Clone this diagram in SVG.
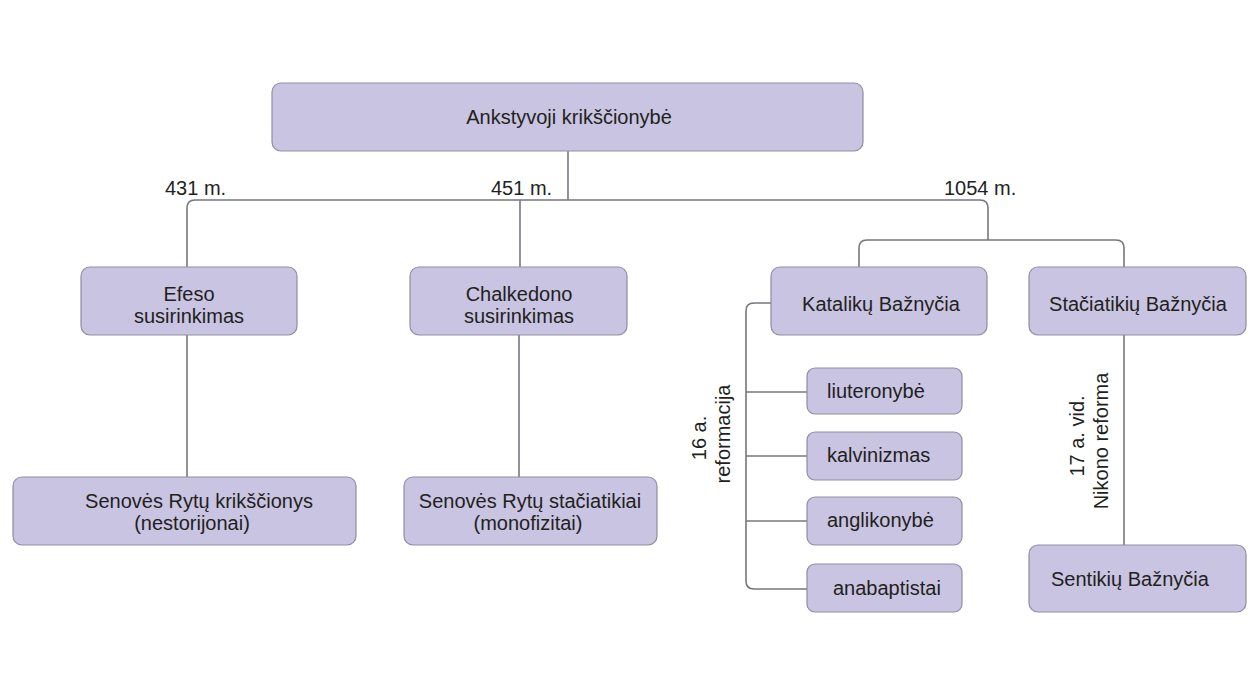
<svg xmlns="http://www.w3.org/2000/svg" width="1258" height="696" viewBox="0 0 1258 696">
<style>
.box{fill:#c8c4e2;stroke:#8f8da3;stroke-width:1.2}
.t{font-family:"Liberation Sans",Arial,sans-serif;font-size:20px;fill:#231f20}
.c{text-anchor:middle}
.ln{fill:none;stroke:#77767f;stroke-width:1.6}
</style>
<rect width="1258" height="696" fill="#ffffff"/>
<g id="connectors">
<path class="ln" d="M568,151 V200"/>
<path class="ln" d="M187,267 V208 Q187,200 195,200 H980 Q988,200 988,208 V240"/>
<path class="ln" d="M520,200 V267"/>
<path class="ln" d="M859,267 V248 Q859,240 867,240 H1116 Q1124,240 1124,248 V267"/>
<path class="ln" d="M187,335 V477"/>
<path class="ln" d="M519,335 V477"/>
<path class="ln" d="M1124,335 V545"/>
<path class="ln" d="M771,303 H754 Q746,303 746,311 V581 Q746,589 754,589 H807"/>
<path class="ln" d="M746,392 H807"/>
<path class="ln" d="M746,456 H807"/>
<path class="ln" d="M746,521 H807"/>
</g>
<g id="labels">
<text class="t" x="165" y="195">431 m.</text>
<text class="t" x="491" y="195">451 m.</text>
<text class="t" x="944" y="195">1054 m.</text>
<text class="t c" transform="translate(706,438) rotate(-90)">16 a.</text>
<text class="t c" transform="translate(730,434) rotate(-90)">reformacija</text>
<text class="t c" transform="translate(1084,436) rotate(-90)">17 a. vid.</text>
<text class="t c" transform="translate(1108,441) rotate(-90)">Nikono reforma</text>
</g>
<g id="n-root">
<rect class="box" x="272" y="83" width="591" height="68" rx="9"/>
<text class="t c" x="569" y="124">Ankstyvoji krikščionybė</text>
</g>
<g id="n-efeso">
<rect class="box" x="81" y="267" width="216" height="68" rx="9"/>
<text class="t c" x="189" y="301">Efeso</text>
<text class="t c" x="189" y="323">susirinkimas</text>
</g>
<g id="n-chalkedono">
<rect class="box" x="410" y="267" width="217" height="68" rx="9"/>
<text class="t c" x="519" y="301">Chalkedono</text>
<text class="t c" x="519" y="323">susirinkimas</text>
</g>
<g id="n-nestorijonai">
<rect class="box" x="13" y="477" width="343" height="68" rx="9"/>
<text class="t c" x="199" y="508">Senovės Rytų krikščionys</text>
<text class="t c" x="192" y="530">(nestorijonai)</text>
</g>
<g id="n-monofizitai">
<rect class="box" x="404" y="477" width="253" height="68" rx="9"/>
<text class="t c" x="530" y="508">Senovės Rytų stačiatikiai</text>
<text class="t c" x="528" y="530">(monofizitai)</text>
</g>
<g id="n-katalikai">
<rect class="box" x="771" y="267" width="216" height="68" rx="9"/>
<text class="t c" x="881" y="311">Katalikų Bažnyčia</text>
</g>
<g id="n-staciatikiai">
<rect class="box" x="1029" y="267" width="217" height="68" rx="9"/>
<text class="t c" x="1138" y="311">Stačiatikių Bažnyčia</text>
</g>
<g id="n-liuteronybe">
<rect class="box" x="807" y="368" width="155" height="46" rx="8"/>
<text class="t" x="827" y="398">liuteronybė</text>
</g>
<g id="n-kalvinizmas">
<rect class="box" x="807" y="432" width="155" height="48" rx="8"/>
<text class="t" x="827" y="462">kalvinizmas</text>
</g>
<g id="n-anglikonybe">
<rect class="box" x="807" y="497" width="155" height="48" rx="8"/>
<text class="t" x="827" y="527">anglikonybė</text>
</g>
<g id="n-anabaptistai">
<rect class="box" x="807" y="564" width="155" height="48" rx="8"/>
<text class="t" x="833" y="595">anabaptistai</text>
</g>
<g id="n-sentikiai">
<rect class="box" x="1029" y="545" width="217" height="67" rx="9"/>
<text class="t" x="1051" y="586">Sentikių Bažnyčia</text>
</g>
</svg>
